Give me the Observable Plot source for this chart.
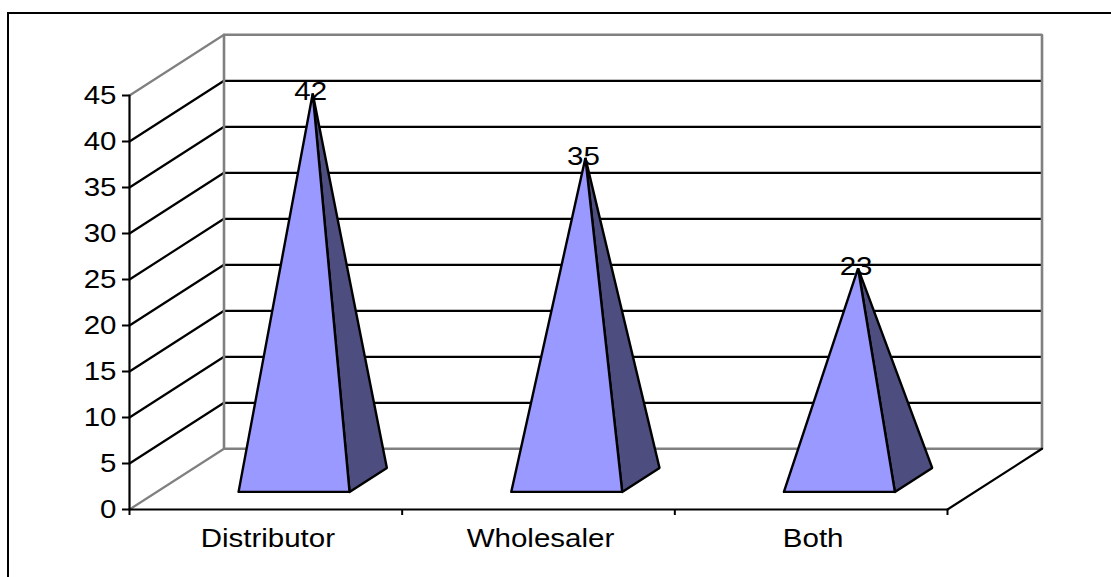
<!DOCTYPE html>
<html>
<head>
<meta charset="utf-8">
<script src="https://cdn.jsdelivr.net/npm/d3@7"></script>
<script src="https://cdn.jsdelivr.net/npm/@observablehq/plot@0.6"></script>
<style>
  html, body { margin: 0; padding: 0; background: #fff; overflow: hidden; width: 1111px; height: 577px; }
  #frame { position: absolute; left: 7px; top: 12px; width: 1102px; height: 600px; border: 2px solid #000; }
  #chart { position: absolute; left: 0; top: 0; }
  #chart svg { display: block; background: transparent; }
</style>
</head>
<body>
<div id="frame"></div>
<div id="chart"></div>
<script>
const categories = ["Distributor", "Wholesaler", "Both"];
const values = [42, 35, 23];
const yTicks = [0, 5, 10, 15, 20, 25, 30, 35, 40, 45];
const xTicks = [0, 1, 2, 3];
const gridValues = [5, 10, 15, 20, 25, 30, 35, 40];

// Oblique 3D projection, expressed in data units
const depthX = 0.3466;   // categories per unit of depth
const depthY = 6.6;      // value units per unit of depth
const baseFront = 0.29, baseBack = 0.685, baseMid = 0.4875;
const halfWidth = 0.2035, centre = 0.503;
const P = (c, v, d) => ({x: c + d * depthX, y: v + d * depthY});

const seg = (id, pts) => pts.map(p => ({...p, id}));

const faces = [], sides = [];
categories.forEach((name, i) => {
  const c = i + centre;
  const fl = P(c - halfWidth, 0, baseFront);
  const fr = P(c + halfWidth, 0, baseFront);
  const br = P(c + halfWidth, 0, baseBack);
  const apex = P(c, values[i], baseMid);
  faces.push(...seg(name, [fl, fr, apex, fl]));
  sides.push(...seg(name, [fr, br, apex, fr]));
});

const apexes = categories.map((name, i) => ({...P(i + centre, values[i], baseMid), label: String(values[i])}));

const gridLines = gridValues.flatMap(v => seg(v, [P(0, v, 0), P(0, v, 1), P(3, v, 1)]));
const wallOutline = seg("wall", [P(0, 45, 1), P(3, 45, 1), P(3, 0, 1), P(0, 0, 1), P(0, 45, 1)]);
const ceilingLeft = seg("cl", [P(0, 45, 0), P(0, 45, 1)]);
const floorLeft = seg("fl", [P(0, 0, 0), P(0, 0, 1)]);
const floorRight = seg("fr", [P(3, 0, 0), P(3, 0, 1)]);
const axisLineY = seg("ay", [P(0, 0, 0), P(0, 45, 0)]);
const axisLineX = seg("ax", [P(0, 0, 0), P(3, 0, 0)]);

const lineOpts = (stroke, strokeWidth) => ({x: "x", y: "y", z: "id", stroke, strokeWidth, strokeLinejoin: "miter"});
const fs = 25;

const plot = Plot.plot({
  width: 1111,
  height: 577,
  marginLeft: 0, marginRight: 0, marginTop: 0, marginBottom: 0,
  style: {fontFamily: "'Liberation Sans', Arial, sans-serif", background: "transparent", color: "#000"},
  x: {type: "linear", domain: [0, 3], range: [129, 947], axis: null},
  y: {type: "linear", domain: [0, 45], range: [509, 95], axis: null},
  marks: [
    Plot.line(gridLines, lineOpts("#000", 2.2)),
    Plot.line(wallOutline, lineOpts("#808080", 2.6)),
    Plot.line(ceilingLeft, lineOpts("#808080", 2.2)),
    Plot.line(floorLeft, lineOpts("#808080", 2.2)),
    Plot.line(floorRight, lineOpts("#000", 2.2)),
    Plot.line(axisLineY, lineOpts("#000", 2.2)),
    Plot.line(axisLineX, lineOpts("#000", 2.2)),
    Plot.axisY(yTicks, {anchor: "left", x: 0, tickSize: 7, tickPadding: 6, fontSize: fs, strokeWidth: 2, stroke: "#000", label: null}),
    Plot.axisX(xTicks, {anchor: "bottom", y: 0, tickSize: 6, tickFormat: () => "", strokeWidth: 2, stroke: "#000", label: null}),
    Plot.line(sides, {...lineOpts("#000", 2.4), fill: "#4D4D80"}),
    Plot.line(faces, {...lineOpts("#000", 2.4), fill: "#9999FF"}),
    Plot.text(apexes, {x: "x", y: "y", text: "label", dx: -2, dy: -1, fontSize: fs, fill: "#000"}),
    Plot.text(categories, {x: (d, i) => i + 0.5, y: () => 0, text: d => d, dy: 29, dx: 2, fontSize: fs, fill: "#000"})
  ]
});
document.getElementById("chart").appendChild(plot);

// The reference text is drawn horizontally stretched
plot.querySelectorAll("text").forEach(t => {
  const len = t.getComputedTextLength();
  if (len > 0) {
    t.setAttribute("textLength", (len * 1.18).toFixed(1));
    t.setAttribute("lengthAdjust", "spacingAndGlyphs");
  }
});
</script>
</body>
</html>
